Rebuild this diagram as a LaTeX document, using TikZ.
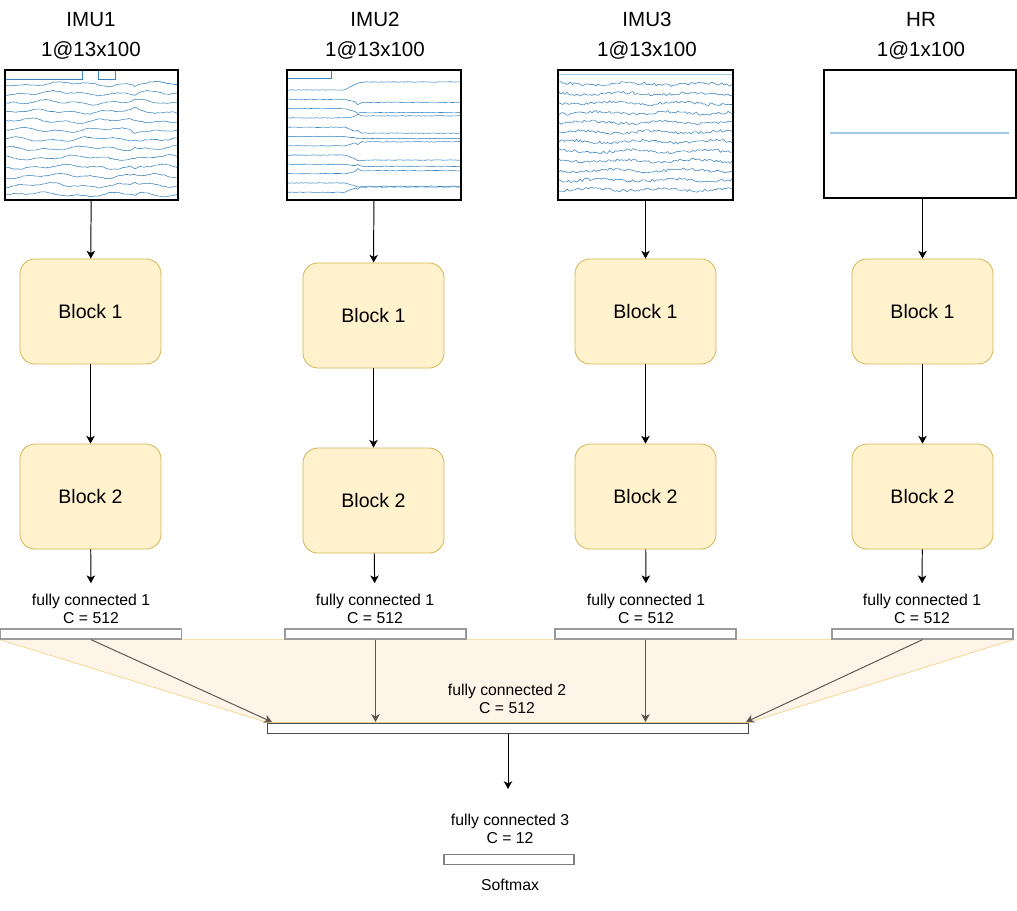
\documentclass[tikz,border=0pt]{standalone}
\usepackage{fontspec}
\setmainfont{Liberation Sans}
\usetikzlibrary{arrows.meta,positioning,backgrounds}
\definecolor{blockfill}{HTML}{FFF2CC}
\definecolor{blockline}{HTML}{D6B656}
\definecolor{fanfill}{HTML}{FFF4E8}
\definecolor{fanline}{HTML}{F5D38A}
\definecolor{wave}{HTML}{3A85C0}
\definecolor{flatwave}{HTML}{9DC8E6}
\definecolor{fcline}{HTML}{9A9A9A}
\definecolor{mixarrow}{HTML}{5F574F}
\begin{document}
\begin{tikzpicture}[x=0.025cm,y=-0.025cm,->,>={Stealth[length=5.5pt,width=6pt,inset=1.5pt]},line width=0.7pt,node distance=4.625cm,
    title node/.style={align=center,font=\fontsize{14.6}{21.3}\selectfont},
    plot node/.style={rectangle,draw,line width=0.9pt,minimum height=3.25cm,inner sep=0},
    block node/.style={rectangle,rounded corners=0.375cm,draw=blockline,line width=0.6pt,fill=blockfill,minimum width=3.525cm,minimum height=2.625cm,font=\fontsize{13.9}{16}\selectfont},
    fc label/.style={align=center,inner ysep=7.5pt,font=\fontsize{11.2}{12.8}\selectfont},
    fc node/.style={rectangle,draw=fcline,line width=0.9pt,fill=white,minimum width=4.525cm,minimum height=0.25cm,inner sep=0},
    wave line/.style={-,wave,line width=0.4pt}]
    \useasboundingbox (0,0) rectangle (1017,911);
    \pgfmathsetseed{11}

    % inputs
    \node[title node] (t1) at (91,36) {IMU1\\1@13x100};
    \node[title node] (t2) at (375,36) {IMU2\\1@13x100};
    \node[title node] (t3) at (647,36) {IMU3\\1@13x100};
    \node[title node] (t4) at (921,36) {HR\\1@1x100};
    \node[plot node,minimum width=4.325cm] (p1) at (91.5,135) {};
    \node[plot node,minimum width=4.35cm] (p2) at (374,135) {};
    \node[plot node,minimum width=4.375cm] (p3) at (645.5,135) {};
    \node[plot node,minimum width=4.8cm,minimum height=3.2cm] (p4) at (920,134) {};

    % signals
    \draw[wave line] (6,79) -- (82,79) -- (82,71) (98,71) -- (98,79) -- (115,79) -- (115,71);
    \foreach \i in {0,...,12}
        \draw[wave line] plot[domain=6:177,samples=70]
            (\x,{84+9.2*\i+1.5*sin(4*\x+40*\i)+1.1*sin(11*\x+70*\i)+0.5*rand+3*max(0,1-abs(\x-135)/4)*sin(90*\i+30)});
    \draw[wave line] (288,78) -- (331,78) -- (331,71);
    \foreach \i/\d in {0/-8,1/3,2/4,3/-2,4/6,5/2,6/-4,7/5,8/2,9/-3,10/4,11/-6}
        \draw[wave line] plot[domain=288:460,samples=80]
            (\x,{90+9.3*\i+\d*min(1,max(0,(\x-345)/14))+0.3*rand+3*max(0,1-abs(\x-358)/3)*sin(70*\i+20)});
    \draw[wave line,flatwave] (559,74) -- (732,74);
    \foreach \i in {0,...,11}
        \draw[wave line] plot[domain=559:732,samples=90]
            (\x,{84+9.6*\i+1.2*sin(5*\x+50*\i)+1.4*rand});
    \draw[wave line,flatwave,line width=1pt] (830,133) -- (1009,133);

    % blocks
    \node[block node] (a1) at (90.5,311.5) {Block 1};
    \node[block node] (a2) at (373.5,315.5) {Block 1};
    \node[block node] (a3) at (645.5,311.5) {Block 1};
    \node[block node] (a4) at (922.5,311.5) {Block 1};
    \node[block node] (b1) [below of=a1] {Block 2};
    \node[block node] (b2) [below of=a2] {Block 2};
    \node[block node] (b3) [below of=a3] {Block 2};
    \node[block node] (b4) [below of=a4] {Block 2};

    % fully connected layers
    \node[fc label] (l1) at (91,609) {fully connected 1\\C = 512};
    \node[fc label] (l2) at (375,609) {fully connected 1\\C = 512};
    \node[fc label] (l3) at (646,609) {fully connected 1\\C = 512};
    \node[fc label] (l4) at (922,609) {fully connected 1\\C = 512};
    \node[fc node] (f1) at (91,634) {};
    \node[fc node] (f2) at (375.5,634) {};
    \node[fc node] (f3) at (645.5,634) {};
    \node[fc node] (f4) at (922.5,634) {};
    \node[fc node,draw=black!70,line width=0.7pt,minimum width=12cm] (g) at (508,728) {};
    \node[fc label] (lg) at (507,699) {fully connected 2\\C = 512};
    \node[fc label] (lh) at (510,829) {fully connected 3\\C = 12};
    \node[fc node,draw=black!50,minimum width=3.25cm] (h) at (509,859.5) {};
    \node[fc label] (sm) at (510,885) {Softmax};
    \coordinate (m1) at (272,722);
    \coordinate (m2) at (375.5,722);
    \coordinate (m3) at (645.5,722);
    \coordinate (m4) at (746,722);
    \coordinate (e3) at (508,789);

    \begin{scope}[on background layer]
        \fill[-,fanfill,draw=fanline,line width=0.5pt] (f1.south west) -- (f4.south east) -- (g.north east) -- (g.north west) -- cycle;
    \end{scope}

    \path
        (p1) edge (a1)
        (p2) edge (a2)
        (p3) edge (a3)
        (a4 |- p4.south) edge (a4)
        (a1) edge (b1)
        (a2) edge (b2)
        (a3) edge (b3)
        (a4) edge (b4)
        (b1) edge (l1)
        (b2) edge (l2)
        (b3) edge (l3)
        (b4) edge (l4)
        (g) edge (e3);
    \path[every edge/.style={draw,mixarrow}]
        (f1.south) edge (m1)
        (f2.south) edge (m2)
        (f3.south) edge (m3)
        (f4.south) edge (m4);

\end{tikzpicture}
\end{document}
